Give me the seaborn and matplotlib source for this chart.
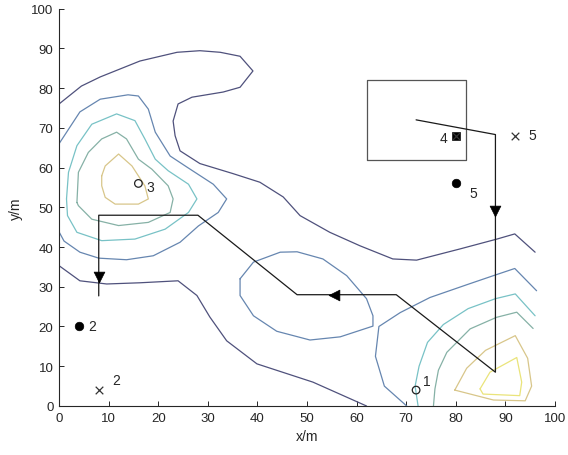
import matplotlib
matplotlib.use("Agg")
import matplotlib.pyplot as plt
import seaborn as sns
import pandas as pd

# ---------------- contour polylines ----------------
L1_UPPER_X = [0, 4.5, 8.3, 16.3, 23.8, 28.4, 32.5, 36.5, 39.1, 36.5, 33.1, 26.8, 24, 23, 23.4, 24.4, 28.4, 35, 40.5, 45.2, 48.6, 54.6, 60.7, 67.3, 72.1, 80.8, 88.3, 91.9, 96]
L1_UPPER_Y = [76, 80.5, 82.8, 86.8, 89, 89.4, 89, 88, 84.3, 80.2, 79, 77.7, 76, 71.7, 68, 64.2, 61, 58.5, 56.3, 52.6, 47.9, 43.7, 40.3, 37, 36.7, 39.5, 42, 43.3, 38.7]
L1_LOWER_X = [0, 4.2, 9.6, 16.3, 24, 27.8, 30.4, 33.8, 39.9, 51.2, 62]
L1_LOWER_Y = [35.3, 31.5, 30.7, 31, 31.5, 27.8, 22.4, 16.4, 10.6, 6, 0]

L2_LEFT_X = [0, 4.2, 8.3, 13.9, 16, 18, 19.4, 22.4, 25.8, 31.1, 33.8, 32.1, 28.1, 24.4, 19, 13.6, 8, 4.2, 1, 0]
L2_LEFT_Y = [66, 74, 77.2, 78.3, 78, 74.7, 68.9, 62.9, 60.1, 55.8, 52.1, 48.7, 45.3, 41.2, 37.8, 36.8, 37.2, 38.7, 41.5, 43.8]
L2_MID_X = [36.5, 39.2, 44.6, 48, 53.2, 58, 62, 63.3, 63.3, 56.7, 50.6, 43.9, 39.2, 36.5, 36.5]
L2_MID_Y = [32, 36.2, 38.7, 38.8, 37, 32.8, 27, 22.7, 20.1, 17.4, 16.6, 18.8, 22.7, 27.8, 32]
L2_RIGHT_X = [70.1, 65.6, 63.8, 64.5, 68.8, 74.8, 82.2, 87.6, 91.9, 96.3]
L2_RIGHT_Y = [0, 5, 12.5, 20, 23.5, 27.3, 30.5, 32.8, 34.6, 29]

L3_LEFT_X = [1.5, 1.9, 3.6, 6.6, 11.6, 15.3, 17.3, 19.4, 22, 26.1, 27.8, 26.1, 21.4, 15.3, 8.6, 3.6, 1.7, 1.5]
L3_LEFT_Y = [52.1, 58.8, 65.5, 70.9, 73.5, 71.8, 67.2, 62.1, 59.2, 55.8, 52.1, 48.7, 44.5, 42, 41.6, 43.7, 47.9, 52.1]
L3_RIGHT_X = [72.4, 71.8, 72.6, 74.3, 77.5, 82.5, 88, 92, 96]
L3_RIGHT_Y = [0, 5, 10, 16, 20.5, 24.5, 27, 28.2, 22.7]

L4_LEFT_X = [3.6, 3.9, 5.9, 8.6, 11.6, 13.6, 16, 18.7, 22, 23, 22.4, 18, 12, 6.6, 3.9, 3.6]
L4_LEFT_Y = [51.2, 58.8, 63.8, 67.2, 68.9, 67.2, 62.1, 59.6, 55.4, 52.1, 48.7, 46.2, 45.4, 47, 50.4, 51.2]
L4_RIGHT_X = [75.5, 75.8, 76.5, 78.2, 82.9, 88.2, 92.3, 95.6]
L4_RIGHT_Y = [0, 4.3, 9, 13.5, 19.4, 22.3, 23.6, 19.5]

L5_LEFT_X = [8.6, 9.3, 12, 14.7, 17.3, 18, 16, 11.3, 9.3, 8.6, 8.6]
L5_LEFT_Y = [57.9, 60.4, 63.4, 60.4, 55.4, 52.1, 50.8, 50.8, 52.5, 55.4, 57.9]
L5_RIGHT_X = [79.8, 82.2, 86, 92, 94.5, 95.3, 94, 87.6, 79.8]
L5_RIGHT_Y = [4, 9.5, 14, 17.7, 12, 5, 1.3, 1.5, 4]

L6_RIGHT_X = [84.9, 86.9, 92.3, 93.3, 92.9, 85.5, 84.9]
L6_RIGHT_Y = [4.3, 8.5, 12.2, 6, 2.6, 3, 4.3]

# ---------------- route, rectangle and points ----------------
PATH_X = [72, 88, 88, 68, 48, 28, 8, 8]
PATH_Y = [72, 68.3, 8.5, 28, 28, 48, 48, 27.7]
ARROW_DOWN_X = [88, 8]
ARROW_DOWN_Y = [49, 32.5]
ARROW_LEFT_X = [55.5]
ARROW_LEFT_Y = [28]

RECT_X = [62, 82, 82, 62, 62]
RECT_Y = [62, 62, 82, 82, 62]

OPEN_X = [16, 72]
OPEN_Y = [56, 4]
DOT_X = [4, 80]
DOT_Y = [20, 56]
CROSS_X = [8, 92, 80]
CROSS_Y = [4, 68, 68]
SQUARE_X = [80]
SQUARE_Y = [68]

LABELS = ["3", "1", "2", "2", "5", "5", "4"]
LABEL_X = [17.6, 73.4, 5.8, 10.8, 82.7, 94.6, 78.4]
LABEL_Y = [55.0, 6.2, 20.0, 6.6, 53.5, 68.2, 67.4]
LABEL_HA = ["left", "left", "left", "left", "left", "left", "right"]

LEVEL_COLORS = ["#4f517c", "#6686b0", "#78c2c6", "#86b1a6", "#d8c68a", "#eae47a"]

sns.set_style("ticks")
plt.rcParams["font.family"] = ["Liberation Sans", "DejaVu Sans"]

fig = plt.figure(figsize=(5.68, 4.56), dpi=100)
ax = fig.add_axes([0.104, 0.1075, 0.873, 0.8715])

contours = [
    (L1_UPPER_X, L1_UPPER_Y, 0), (L1_LOWER_X, L1_LOWER_Y, 0),
    (L2_LEFT_X, L2_LEFT_Y, 1), (L2_MID_X, L2_MID_Y, 1), (L2_RIGHT_X, L2_RIGHT_Y, 1),
    (L3_LEFT_X, L3_LEFT_Y, 2), (L3_RIGHT_X, L3_RIGHT_Y, 2),
    (L4_LEFT_X, L4_LEFT_Y, 3), (L4_RIGHT_X, L4_RIGHT_Y, 3),
    (L5_LEFT_X, L5_LEFT_Y, 4), (L5_RIGHT_X, L5_RIGHT_Y, 4),
    (L6_RIGHT_X, L6_RIGHT_Y, 5),
]
for xs, ys, lev in contours:
    df = pd.DataFrame({"x": xs, "y": ys})
    sns.lineplot(data=df, x="x", y="y", sort=False, estimator=None,
                 color=LEVEL_COLORS[lev], linewidth=0.9, ax=ax)

# rectangle
sns.lineplot(data=pd.DataFrame({"x": RECT_X, "y": RECT_Y}), x="x", y="y",
             sort=False, estimator=None, color="#555555", linewidth=0.9, ax=ax)
# route
sns.lineplot(data=pd.DataFrame({"x": PATH_X, "y": PATH_Y}), x="x", y="y",
             sort=False, estimator=None, color="#1a1a1a", linewidth=0.9, ax=ax)
sns.scatterplot(x=ARROW_DOWN_X, y=ARROW_DOWN_Y, marker="v", s=60, color="black",
                edgecolor="black", linewidth=0.5, ax=ax, zorder=5)
sns.scatterplot(x=ARROW_LEFT_X, y=ARROW_LEFT_Y, marker="<", s=60, color="black",
                edgecolor="black", linewidth=0.5, ax=ax, zorder=5)

# points
sns.scatterplot(x=OPEN_X, y=OPEN_Y, marker="o", s=30, facecolor="none",
                edgecolor="#222222", linewidth=0.9, ax=ax, zorder=6)
sns.scatterplot(x=DOT_X, y=DOT_Y, marker="o", s=38, color="black",
                edgecolor="black", ax=ax, zorder=6)
sns.scatterplot(x=SQUARE_X, y=SQUARE_Y, marker="s", s=30, color="black",
                edgecolor="black", ax=ax, zorder=6)
sns.scatterplot(x=CROSS_X, y=CROSS_Y, marker="x", s=30, color="#333333",
                linewidth=0.9, ax=ax, zorder=7)

for t, lx, ly, ha in zip(LABELS, LABEL_X, LABEL_Y, LABEL_HA):
    ax.text(lx, ly, t, fontsize=10, ha=ha, va="center", color="#262626")

ax.set_xlim(0, 100)
ax.set_ylim(0, 100)
ax.set_xticks(range(0, 101, 10))
ax.set_yticks(range(0, 101, 10))
ax.set_xlabel("x/m", fontsize=10, color="#262626", labelpad=4)
ax.set_ylabel("y/m", fontsize=10, color="#262626", labelpad=6)
ax.tick_params(direction="in", length=3.5, width=0.7, colors="#262626",
               labelsize=9.5, pad=4)
sns.despine(ax=ax)
for s in ["left", "bottom"]:
    ax.spines[s].set_color("#262626")
    ax.spines[s].set_linewidth(0.8)
ax.set_facecolor("white")
fig.patch.set_facecolor("white")

fig.savefig("out.png", dpi=100)
